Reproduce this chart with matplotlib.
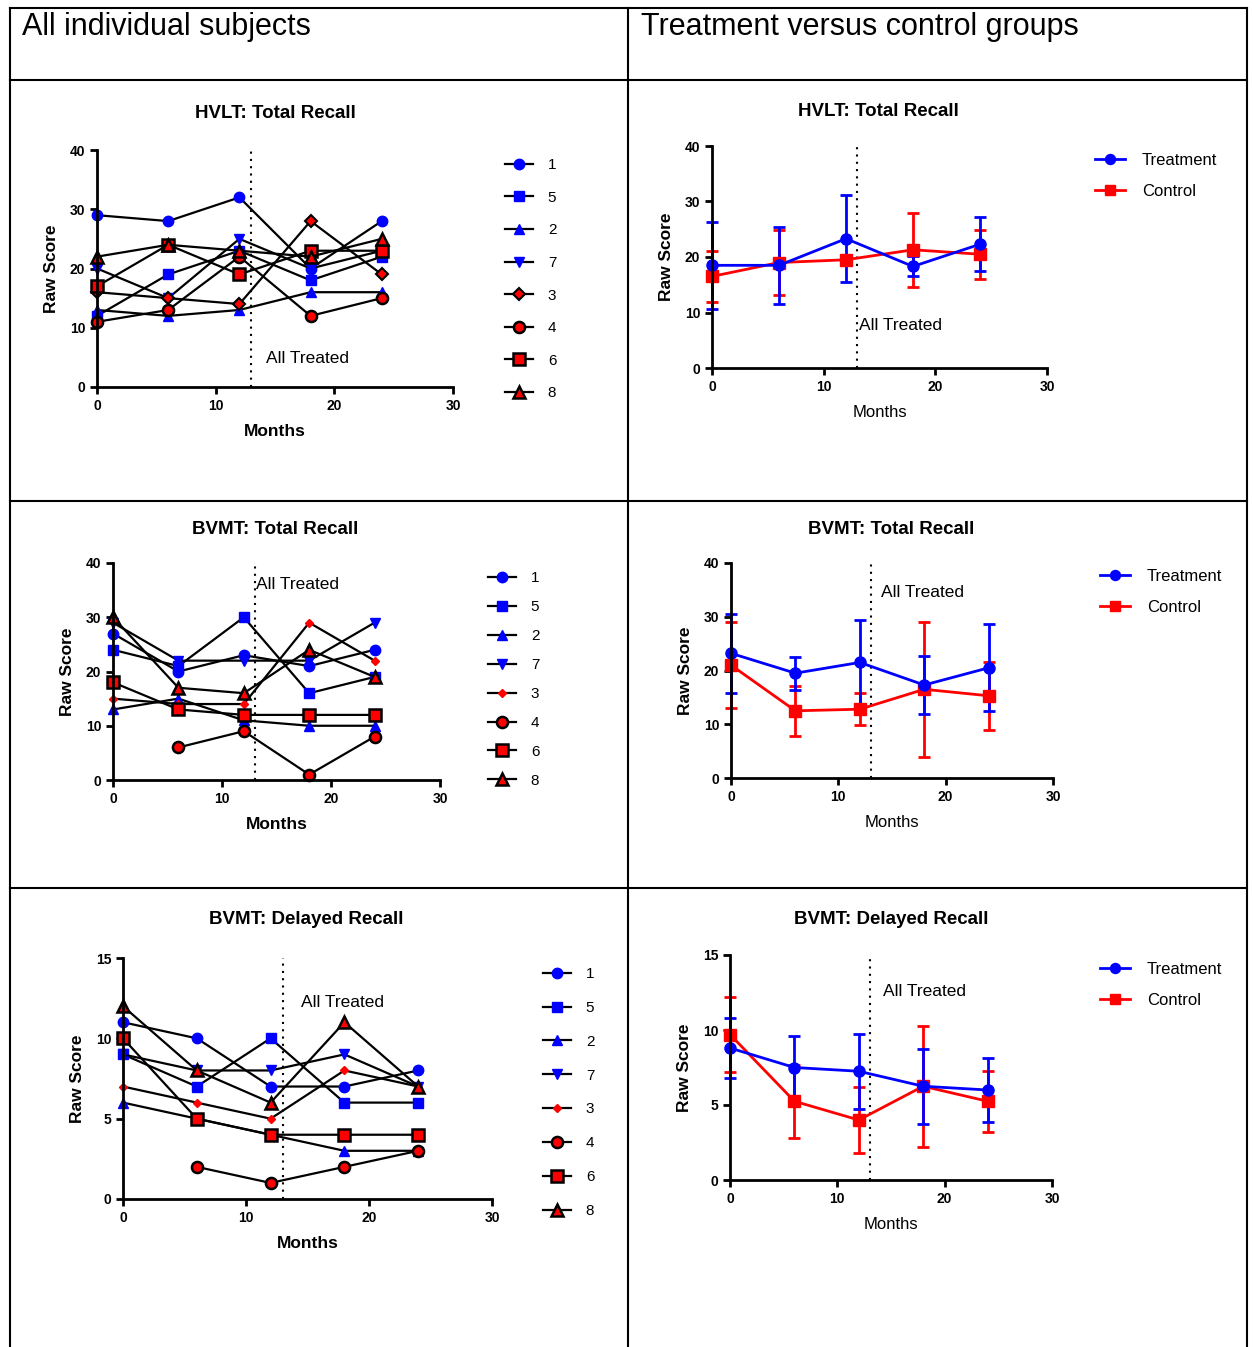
import numpy as np
import matplotlib.pyplot as plt
from matplotlib.lines import Line2D

plt.rcParams['font.family'] = ['Liberation Sans', 'DejaVu Sans']

W, H = 1253, 1347
nan = np.nan

months = [0, 6, 12, 18, 24]
subjects = ['1', '5', '2', '7', '3', '4', '6', '8']

# individual subjects, rows follow `subjects`
hvlt_subj = [
    [29, 28, 32, 20, 28],
    [12, 19, 23, 18, 22],
    [13, 12, 13, 16, 16],
    [20, 15, 25, 20, 23],
    [16, 15, 14, 28, 19],
    [11, 13, 22, 12, 15],
    [17, 24, 19, 23, 23],
    [22, 24, 23, 22, 25],
]
bvmt_total_subj = [
    [27, 20, 23, 21, 24],
    [24, 21, 30, 16, 19],
    [13, 15, 11, 10, 10],
    [29, 22, 22, 22, 29],
    [15, 14, 14, 29, 22],
    [nan, 6, 9, 1, 8],
    [18, 13, 12, 12, 12],
    [30, 17, 16, 24, 19],
]
bvmt_delay_subj = [
    [11, 10, 7, 7, 8],
    [9, 7, 10, 6, 6],
    [6, 5, 4, 3, 3],
    [9, 8, 8, 9, 7],
    [7, 6, 5, 8, 7],
    [nan, 2, 1, 2, 3],
    [10, 5, 4, 4, 4],
    [12, 8, 6, 11, 7],
]

# group means and SD
hvlt_trt = [18.5, 18.5, 23.3, 18.3, 22.3]
hvlt_trt_sd = [7.8, 6.9, 7.8, 1.8, 4.9]
hvlt_ctl = [16.5, 19.0, 19.5, 21.3, 20.5]
hvlt_ctl_sd = [4.6, 5.9, 0.5, 6.7, 4.4]

bvmt_total_trt = [23.2, 19.5, 21.5, 17.3, 20.5]
bvmt_total_trt_sd = [7.3, 3.1, 7.9, 5.4, 8.1]
bvmt_total_ctl = [21.0, 12.5, 12.8, 16.5, 15.3]
bvmt_total_ctl_sd = [8.0, 4.7, 3.0, 12.5, 6.3]

bvmt_delay_trt = [8.8, 7.5, 7.25, 6.25, 6.0]
bvmt_delay_trt_sd = [2.0, 2.1, 2.5, 2.5, 2.15]
bvmt_delay_ctl = [9.7, 5.25, 4.0, 6.25, 5.25]
bvmt_delay_ctl_sd = [2.5, 2.45, 2.2, 4.05, 2.05]

blue = '#0000FF'
red = '#FF0000'


def rect(x0, x1, ytop, ybot):
    return [x0 / W, 1 - ybot / H, (x1 - x0) / W, (ybot - ytop) / H]


def style(ax, ymax, ystep, bold_x=True):
    ax.set_xlim(0, 30)
    ax.set_ylim(0, ymax)
    ax.set_xticks([0, 10, 20, 30])
    ax.set_yticks(np.arange(0, ymax + 1, ystep))
    for s in ['top', 'right']:
        ax.spines[s].set_visible(False)
    for s in ['left', 'bottom']:
        ax.spines[s].set_linewidth(2)
    ax.tick_params(width=2, length=5, labelsize=10)
    for lab in ax.get_xticklabels() + ax.get_yticklabels():
        lab.set_fontweight('bold')
    ax.axvline(13, color='black', ls=(0, (1, 2.5)), lw=1.5)
    ax.set_ylabel('Raw Score', fontsize=12.5, fontweight='bold', labelpad=8)
    if bold_x:
        ax.set_xlabel('Months', fontsize=12.5, fontweight='bold', labelpad=8)
    else:
        ax.set_xlabel('Months', fontsize=12, labelpad=8)


def subj_style(name, small_diamond):
    if name in ['1', '5', '2', '7']:
        mk = {'1': 'o', '5': 's', '2': '^', '7': 'v'}[name]
        return dict(marker=mk, mfc=blue, mec=blue, ms=7.5 if mk != 's' else 7)
    mk = {'3': 'D', '4': 'o', '6': 's', '8': '^'}[name]
    if name == '3':
        if small_diamond:
            return dict(marker='D', mfc=red, mec=red, ms=4.5)
        return dict(marker='D', mfc=red, mec='black', mew=1.5, ms=6)
    return dict(marker=mk, mfc=red, mec='black', mew=1.8, ms=8)


def individual(ax, data, ymax, ystep, small_diamond, leg_xy, leg_space):
    for name, vals in zip(subjects, data):
        ax.plot(months, vals, color='black', lw=1.6, label=name, clip_on=False,
                **subj_style(name, small_diamond))
    style(ax, ymax, ystep)
    ax.legend(loc='upper left', bbox_to_anchor=(leg_xy[0] / W, 1 - leg_xy[1] / H),
              bbox_transform=fig.transFigure, frameon=False, fontsize=11,
              handlelength=1.8, handletextpad=1.0, labelspacing=leg_space,
              borderaxespad=0, borderpad=0)


def group(ax, trt, trt_sd, ctl, ctl_sd, ymax, ystep, leg_xy):
    hc = ax.errorbar(months, ctl, yerr=ctl_sd, color=red, marker='s', ms=8, lw=2,
                     elinewidth=2, capsize=4, capthick=2, label='Control', clip_on=False)
    ht = ax.errorbar(months, trt, yerr=trt_sd, color=blue, marker='o', ms=8, lw=2,
                     elinewidth=2, capsize=4, capthick=2, label='Treatment', clip_on=False)
    style(ax, ymax, ystep, bold_x=False)
    ax.legend([ht[0], hc[0]], ['Treatment', 'Control'], loc='upper left',
              bbox_to_anchor=(leg_xy[0] / W, 1 - leg_xy[1] / H),
              bbox_transform=fig.transFigure, frameon=False, fontsize=12,
              handlelength=1.8, handletextpad=1.0, labelspacing=0.95,
              borderaxespad=0, borderpad=0, markerscale=0.9)


fig = plt.figure(figsize=(W / 100, H / 100), dpi=100)

# panel frame
lw_frame = 1.5
for xs, ys in [([10, 1247], [8, 8]), ([10, 10], [8, H]), ([1247, 1247], [8, H]),
               ([628, 628], [8, H]), ([10, 1247], [80, 80]), ([10, 1247], [501, 501]),
               ([10, 1247], [888, 888])]:
    fig.add_artist(Line2D([x / W for x in xs], [1 - y / H for y in ys],
                          color='black', lw=lw_frame))

fig.text(22 / W, 1 - 27 / H, 'All individual subjects', fontsize=22, va='center')
fig.text(641 / W, 1 - 27 / H, 'Treatment versus control groups', fontsize=22, va='center')

titles = [
    (275, 113, 'HVLT: Total Recall'), (878, 111, 'HVLT: Total Recall'),
    (275, 529, 'BVMT: Total Recall'), (891, 529, 'BVMT: Total Recall'),
    (306, 920, 'BVMT: Delayed Recall'), (891, 920, 'BVMT: Delayed Recall'),
]
for x, y, t in titles:
    fig.text(x / W, 1 - y / H, t, fontsize=13.5, fontweight='bold', ha='center', va='center')

ax1 = fig.add_axes(rect(97, 453, 150, 387))
individual(ax1, hvlt_subj, 40, 10, False, (505, 158), 1.22)
ax1.text(14.2, 4.8, 'All Treated', fontsize=12.5, va='center')

ax2 = fig.add_axes(rect(712, 1047, 146, 368))
group(ax2, hvlt_trt, hvlt_trt_sd, hvlt_ctl, hvlt_ctl_sd, 40, 10, (1095, 153))
ax2.text(13.2, 7.7, 'All Treated', fontsize=12.5, va='center')

ax3 = fig.add_axes(rect(113, 440, 563, 780))
individual(ax3, bvmt_total_subj, 40, 10, True, (488, 571), 0.98)
ax3.text(13.1, 36, 'All Treated', fontsize=12.5, va='center')

ax4 = fig.add_axes(rect(731, 1053, 563, 778))
group(ax4, bvmt_total_trt, bvmt_total_trt_sd, bvmt_total_ctl, bvmt_total_ctl_sd,
      40, 10, (1100, 569))
ax4.text(14, 34.5, 'All Treated', fontsize=12.5, va='center')

ax5 = fig.add_axes(rect(123, 492, 958, 1199))
individual(ax5, bvmt_delay_subj, 15, 5, True, (543, 967), 1.3)
ax5.text(14.5, 12.2, 'All Treated', fontsize=12.5, va='center')

ax6 = fig.add_axes(rect(730, 1052, 955, 1180))
group(ax6, bvmt_delay_trt, bvmt_delay_trt_sd, bvmt_delay_ctl, bvmt_delay_ctl_sd,
      15, 5, (1100, 962))
ax6.text(14.3, 12.6, 'All Treated', fontsize=12.5, va='center')

fig.savefig('out.png', dpi=100)
